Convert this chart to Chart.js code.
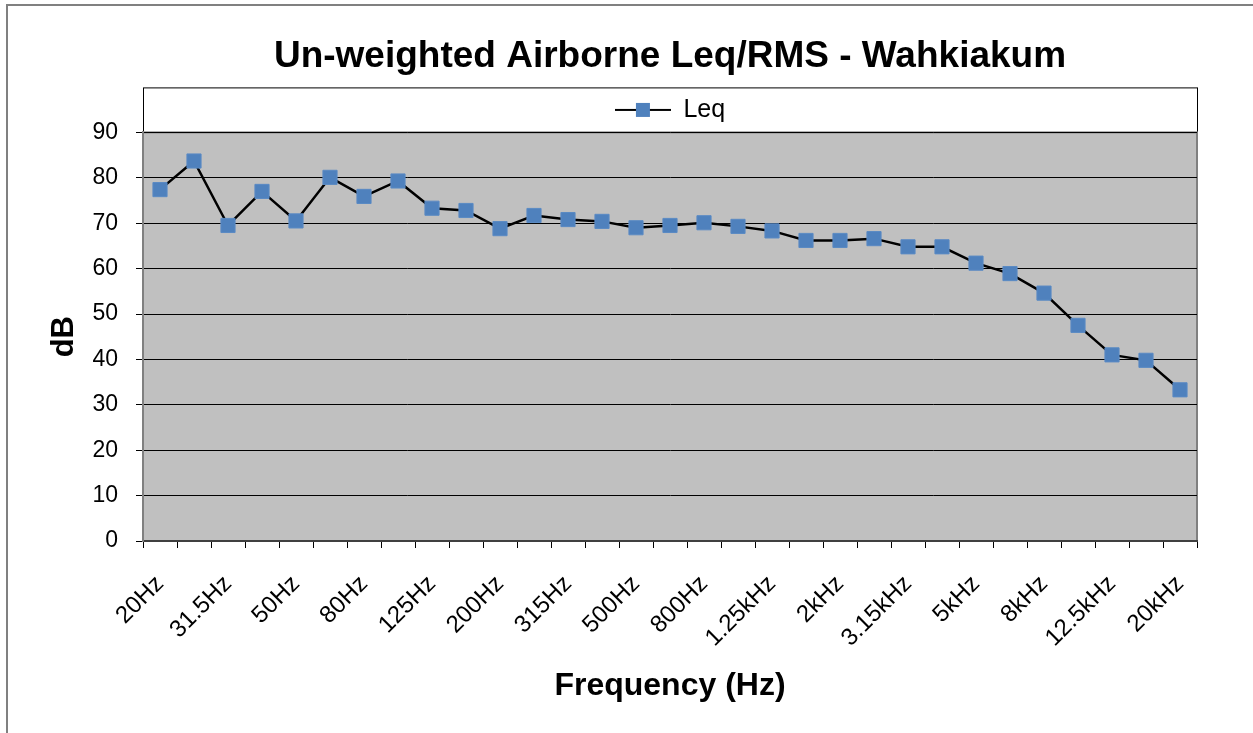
<!DOCTYPE html>
<html>
<head>
<meta charset="utf-8">
<script src="https://cdn.jsdelivr.net/npm/chart.js@4"></script>
<style>
    body { margin: 0; background: #ffffff; }
    #wrap { width: 1253px; height: 733px; position: relative; }
</style>
</head>
<body>
<div id="wrap"><canvas id="leqChart" width="1253" height="733"></canvas></div>
<script>
const bands = [
    "20Hz", "25Hz", "31.5Hz", "40Hz", "50Hz", "63Hz", "80Hz", "100Hz", "125Hz", "160Hz",
    "200Hz", "250Hz", "315Hz", "400Hz", "500Hz", "630Hz", "800Hz", "1kHz", "1.25kHz", "1.6kHz",
    "2kHz", "2.5kHz", "3.15kHz", "4kHz", "5kHz", "6.3kHz", "8kHz", "10kHz", "12.5kHz", "16kHz",
    "20kHz"
];
const leq = [
    77.4, 83.7, 69.5, 77.0, 70.5, 80.1, 75.9, 79.3, 73.3, 72.8,
    68.8, 71.7, 70.8, 70.4, 69.0, 69.5, 70.1, 69.3, 68.3, 66.2,
    66.2, 66.6, 64.8, 64.8, 61.2, 58.9, 54.6, 47.5, 41.0, 39.8,
    33.3
];
const yTicks = [0, 10, 20, 30, 40, 50, 60, 70, 80, 90];

const FONT = "'Liberation Sans', Arial, sans-serif";
const PAD = { top: 8, left: 46, right: 56, bottom: 20 };

// legend swatch: black line with blue square, like the Excel legend
function legendSwatch() {
    const c = document.createElement("canvas");
    c.width = 56;
    c.height = 16;
    const g = c.getContext("2d");
    g.strokeStyle = "#000000";
    g.lineWidth = 2;
    g.beginPath();
    g.moveTo(0, 8);
    g.lineTo(56, 8);
    g.stroke();
    g.fillStyle = "#4f81bd";
    g.fillRect(21, 1, 14, 14);
    return c;
}

// Excel centres title and legend over the plot, not the whole canvas
const centerOnPlot = {
    id: "centerOnPlot",
    afterLayout(chart) {
        const a = chart.chartArea;
        [chart.titleBlock, chart.legend].forEach(box => {
            if (box) {
                box.left = a.left;
                box.right = a.right;
                box.width = a.right - a.left;
            }
        });
    }
};

const frame = {
    id: "frame",
    beforeDraw(chart) {
        const ctx = chart.ctx;
        const a = chart.chartArea;
        ctx.save();
        // outer chart border (only top/left visible in the crop)
        ctx.strokeStyle = "#808080";
        ctx.lineWidth = 2;
        ctx.beginPath();
        ctx.moveTo(7, 733);
        ctx.lineTo(7, 5);
        ctx.lineTo(1253, 5);
        ctx.stroke();
        // legend box
        ctx.fillStyle = "#ffffff";
        ctx.fillRect(a.left, a.top - 45, a.right - a.left, 45);
        ctx.strokeStyle = "#000000";
        ctx.lineWidth = 1;
        ctx.strokeRect(a.left + 0.5, a.top - 44.5, a.right - a.left, 45);
        // plot fill
        ctx.fillStyle = "#c0c0c0";
        ctx.fillRect(a.left, a.top, a.right - a.left, a.bottom - a.top);
        ctx.strokeStyle = "#808080";
        ctx.lineWidth = 2;
        ctx.strokeRect(a.left, a.top, a.right - a.left, a.bottom - a.top);
        ctx.restore();
    }
};

new Chart(document.getElementById("leqChart"), {
    type: "line",
    data: {
        labels: bands,
        datasets: [{
            label: "Leq",
            data: leq,
            borderColor: "#000000",
            borderWidth: 2.5,
            pointStyle: "rect",
            pointRadius: 10,
            pointHoverRadius: 10,
            pointBackgroundColor: "#4f81bd",
            pointBorderColor: "#5a8ac4",
            pointBorderWidth: 1,
            tension: 0
        }]
    },
    options: {
        responsive: false,
        maintainAspectRatio: false,
        animation: false,
        layout: { padding: PAD },
        plugins: {
            title: {
                display: true,
                text: "Un-weighted Airborne Leq/RMS - Wahkiakum",
                color: "#000000",
                font: { family: FONT, size: 37, weight: "bold" },
                padding: { top: 27, bottom: 8 }
            },
            legend: {
                display: true,
                position: "top",
                labels: {
                    color: "#000000",
                    font: { family: FONT, size: 25 },
                    usePointStyle: true,
                    pointStyleWidth: 56,
                    padding: 10,
                    generateLabels() {
                        return [{
                            text: "Leq",
                            pointStyle: legendSwatch(),
                            fillStyle: "#4f81bd",
                            strokeStyle: "#000000",
                            lineWidth: 0,
                            hidden: false,
                            datasetIndex: 0
                        }];
                    }
                }
            },
            tooltip: { enabled: false }
        },
        scales: {
            x: {
                offset: true,
                afterFit(scale) {
                    scale.height = 733 - 541 - PAD.bottom;
                },
                title: {
                    display: true,
                    text: "Frequency (Hz)",
                    color: "#000000",
                    font: { family: FONT, size: 32, weight: "bold" },
                    padding: { top: 4, bottom: 8 }
                },
                grid: {
                    display: true,
                    offset: true,
                    drawOnChartArea: false,
                    drawTicks: true,
                    tickLength: 7,
                    color: "#000000",
                    lineWidth: 1
                },
                border: { display: true, color: "#404040", width: 2 },
                ticks: {
                    autoSkip: false,
                    maxRotation: 45,
                    minRotation: 45,
                    color: "#000000",
                    font: { family: FONT, size: 24 },
                    padding: 22,
                    callback(value, index) {
                        return index % 2 === 0 ? bands[index] : "";
                    }
                }
            },
            y: {
                min: 0,
                max: 90,
                afterBuildTicks(scale) {
                    scale.ticks = yTicks.map(v => ({ value: v }));
                },
                afterFit(scale) {
                    scale.width = 143 - PAD.left;
                },
                title: {
                    display: true,
                    text: "dB",
                    color: "#000000",
                    font: { family: FONT, size: 31, weight: "bold" },
                    padding: { top: 0, bottom: 12 }
                },
                grid: {
                    color: "#000000",
                    lineWidth: 1,
                    drawTicks: true,
                    tickLength: 7
                },
                border: { display: true, color: "#808080", width: 2 },
                ticks: {
                    color: "#000000",
                    font: { family: FONT, size: 23 },
                    padding: 18
                }
            }
        }
    },
    plugins: [centerOnPlot, frame]
});
</script>
</body>
</html>
